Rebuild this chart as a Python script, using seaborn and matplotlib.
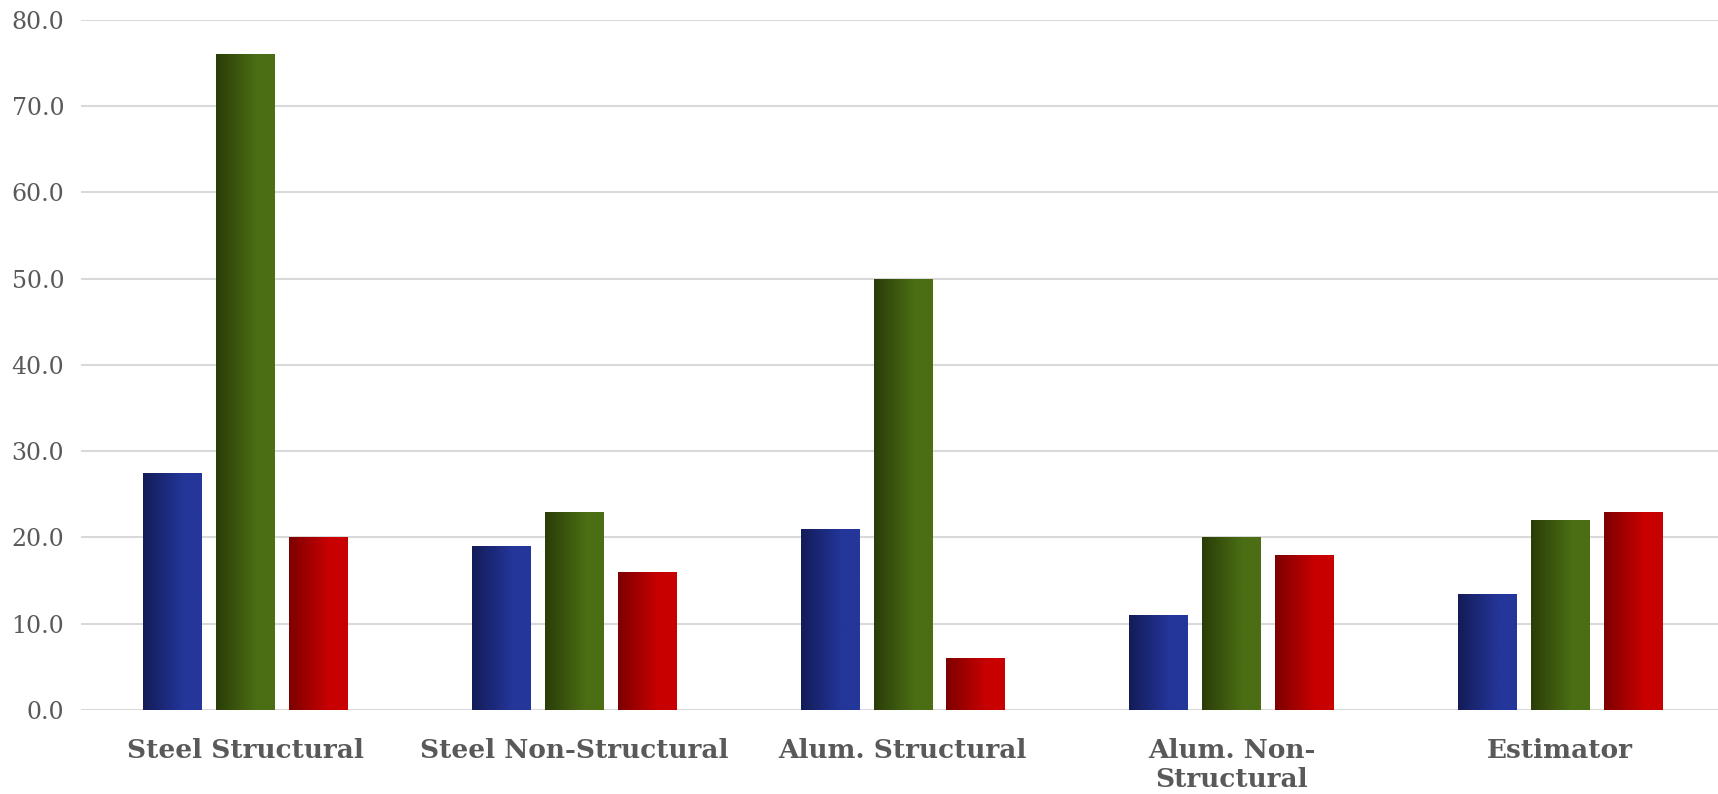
import matplotlib
matplotlib.use("Agg")
import matplotlib.pyplot as plt
import numpy as np
import pandas as pd
import seaborn as sns
from matplotlib.colors import LinearSegmentedColormap

categories = ["Steel Structural", "Steel Non-Structural", "Alum. Structural",
              "Alum. Non-\nStructural", "Estimator"]
series = ["Blue", "Green", "Red"]
blue_vals = [27.5, 19.0, 21.0, 11.0, 13.5]
green_vals = [76.0, 23.0, 50.0, 20.0, 22.0]
red_vals = [20.0, 16.0, 6.0, 18.0, 23.0]
yticks = [0, 10, 20, 30, 40, 50, 60, 70, 80]

# gradient ends (dark left -> light right)
grad = {
    "Blue": ("#131c58", "#24369a"),
    "Green": ("#2a3d08", "#4b6e14"),
    "Red": ("#7e0000", "#c90000"),
}

df = pd.DataFrame({
    "category": categories * 3,
    "series": [s for s in series for _ in categories],
    "value": blue_vals + green_vals + red_vals,
})

sns.set_theme(style="white")
plt.rcParams["font.family"] = ["DejaVu Serif"]

fig = plt.figure(figsize=(17.18, 7.94), dpi=100)
ax = fig.add_axes([81 / 1718, 1 - 710 / 794, 1 - 81 / 1718, (710 - 19.7) / 794])

sns.barplot(data=df, x="category", y="value", hue="series", order=categories,
            hue_order=series, width=0.665, gap=0.2, ax=ax, legend=False,
            palette=[grad[s][1] for s in series], saturation=1)

# horizontal gradient fill for every bar
ramp = np.concatenate([np.linspace(0, 1, 70), np.ones(30)]).reshape(1, -1)
for name, cont in zip(series, ax.containers):
    cmap = LinearSegmentedColormap.from_list(name, grad[name])
    for bar in cont:
        x, y = bar.get_x(), bar.get_y()
        w, h = bar.get_width(), bar.get_height()
        bar.set_facecolor("none")
        bar.set_edgecolor("none")
        im = ax.imshow(ramp, cmap=cmap, aspect="auto", extent=[x, x + w, y, y + h],
                       interpolation="bilinear", zorder=3)
        im.set_clip_path(bar)

ax.set_xlim(-0.5, -0.5 + 1637 / 328.7)
ax.set_ylim(0, 80)
ax.set_yticks(yticks)
ax.set_yticklabels([f"{v:.1f}" for v in yticks], fontsize=17, color="#595959")
ax.set_xticks(range(len(categories)))
ax.set_xticklabels(categories, fontsize=19, fontweight="bold", color="#595959",
                   linespacing=1.2)
ax.tick_params(axis="x", length=0, pad=20)
ax.tick_params(axis="y", length=0, pad=12)
ax.set_xlabel("")
ax.set_ylabel("")
ax.grid(axis="y", color="#d9d9d9", linewidth=1.5)
ax.set_axisbelow(True)
for sp in ax.spines.values():
    sp.set_visible(False)

fig.savefig("out.png", dpi=100)
